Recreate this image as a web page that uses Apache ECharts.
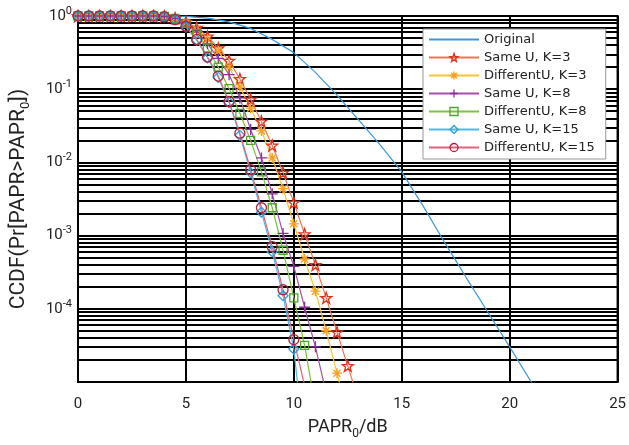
<!DOCTYPE html>
<html>
<head>
<meta charset="utf-8">
<script src="https://cdn.jsdelivr.net/npm/echarts@6/dist/echarts.min.js"></script>
<style>html,body{margin:0;padding:0;background:#fff;}#c{width:629px;height:445px;}</style>
</head>
<body>
<div id="c"></div>
<script>
// ---- data ----
const xGrid = [0,0.5,1,1.5,2,2.5,3,3.5,4,4.5,5,5.5,6,6.5,7,7.5,8,8.5,9,9.5,10,10.5,11,11.5,12,12.5,13];
const xOriginal = [0,1,2,3,4,5,6,7,8,9,10,11,12,13,14,15,16,17,18,19,20,21,22];
const original = [1,1,1,1,1,0.989,0.933,0.832,0.676,0.479,0.316,0.17,0.0832,0.038,0.0174,0.00741,0.00251,0.000794,0.000263,8.91e-5,3.02e-5,1e-5,3.16e-6];
const sameU_K3  = [1,1,1,1,1,1,1,1,0.99,0.933,0.832,0.692,0.525,0.363,0.245,0.138,0.0724,0.0363,0.017,0.00724,0.00282,0.00105,0.000398,0.000141,4.79e-5,1.66e-5,5.62e-6];
const diffU_K3  = [1,1,1,1,1,1,1,1,0.985,0.93,0.813,0.661,0.479,0.331,0.2,0.107,0.055,0.0269,0.0115,0.00437,0.00145,0.000479,0.000174,5.01e-5,1.32e-5,3.55e-6];
const sameU_K8  = [1,1,1,1,1,1,1,1,0.985,0.93,0.813,0.631,0.417,0.263,0.158,0.0759,0.0282,0.0115,0.00372,0.00107,0.00038,0.000105,3.02e-5,7.08e-6];
const diffU_K8  = [1,1,1,1,1,1,1,1,0.985,0.93,0.794,0.575,0.363,0.2,0.102,0.0468,0.02,0.00741,0.0024,0.000631,0.000141,3.16e-5,4.47e-6];
const sameU_K15 = [1,1,1,1,1,1,1,1,0.977,0.891,0.708,0.468,0.269,0.145,0.0661,0.0234,0.00724,0.00209,0.000603,0.000151,2.82e-5,1.26e-6];
const diffU_K15 = [1,1,1,1,1,1,1,1,0.977,0.891,0.724,0.479,0.275,0.151,0.0676,0.0251,0.00794,0.0024,0.000708,0.000182,3.8e-5,8.91e-6];
const seriesNames = ['Original','Same U, K=3','DifferentU, K=3','Same U, K=8','DifferentU, K=8','Same U, K=15','DifferentU, K=15'];
const xTicks = [0,5,10,15,20,25];
const yMin = 1e-5, yMax = 1;
// minor log grid positions (mantissas 2..9 in each decade)
const minorMantissas = [2,3,4,5,6,7,8,9];
const decades = [1e-5,1e-4,1e-3,1e-2,1e-1];

// ---- styles ----
const STAR = 'path://M0,-10L2.35,-3.24L9.51,-3.09L3.8,1.24L5.88,8.09L0,4L-5.88,8.09L-3.8,1.24L-9.51,-3.09L-2.35,-3.24Z';
const ASTER = 'path://M0,-10L0,10M-10,0L10,0M-7,-7L7,7M-7,7L7,-7';
const PLUS = 'path://M0,-10L0,10M-10,0L10,0';
const FONT = 'Roboto';
const LEGEND_FONT = 'DejaVu Sans';

const styles = {
  'Same U, K=3':      {line:'#f2744f', mark:'#e0301e', symbol:STAR, size:11},
  'DifferentU, K=3':  {line:'#f8c530', mark:'#f5a020', symbol:ASTER, size:10},
  'Same U, K=8':      {line:'#a550ab', mark:'#8a2f9a', symbol:PLUS, size:11},
  'DifferentU, K=8':  {line:'#7cc43a', mark:'#4ca52a', symbol:'rect', size:8},
  'Same U, K=15':     {line:'#4cb8ea', mark:'#2f9fd8', symbol:'diamond', size:10},
  'DifferentU, K=15': {line:'#e5607a', mark:'#b0203f', symbol:'circle', size:10}
};

function pairs(xs, ys){ return ys.map((v,i)=>[xs[i], v]); }

function mk(name, ys){
  const s = styles[name];
  return {
    name, type:'line', data: pairs(xGrid, ys), z: 3,
    symbol: s.symbol, symbolSize: s.size, showAllSymbol: true,
    lineStyle:{color: s.line, width: 1.2},
    itemStyle:{color:'rgba(255,255,255,0)', borderColor: s.mark, borderWidth: 1.3},
    emphasis:{disabled:true}, animation:false, clip:true
  };
}

const minorVals = [];
decades.forEach(d => minorMantissas.forEach(m => minorVals.push(+(m*d).toPrecision(3))));

const legendData = seriesNames.map(n => {
  if (n === 'Original') return {name:n, itemStyle:{color:'rgba(0,0,0,0)', borderWidth:0}};
  const s = styles[n];
  return {name:n, itemStyle:{color:'rgba(255,255,255,0)', borderColor:s.mark, borderWidth:1.3}};
});

const chart = echarts.init(document.getElementById('c'), null, {renderer:'canvas'});
chart.setOption({
  backgroundColor:'#fff',
  animation:false,
  textStyle:{fontFamily: FONT},
  grid:{left:77, right:10, top:16, bottom:52, show:true, borderColor:'#000', borderWidth:2, backgroundColor:'#fff'},
  legend:{
    orient:'vertical', left:423, top:29,
    data: legendData,
    backgroundColor:'#fff', borderColor:'#999', borderWidth:1,
    padding:[4,11,5,5], itemGap:5, itemWidth:50, itemHeight:10,
    textStyle:{fontSize:13, color:'#222', fontFamily: LEGEND_FONT},
    selectedMode:false
  },
  xAxis:{
    type:'value', min:0, max:25, interval:5,
    name:'PAPR{s|0}/dB', nameLocation:'middle', nameGap:33,
    nameTextStyle:{fontSize:18, color:'#222', fontFamily: FONT, rich:{s:{fontSize:12, padding:[13,0,0,0], color:'#222', fontFamily: FONT}}},
    axisLine:{show:true, lineStyle:{color:'#000', width:2}},
    axisTick:{show:false},
    axisLabel:{fontSize:15, color:'#222', margin:15, fontFamily: FONT, formatter: v => (xTicks.indexOf(v)>=0 ? String(v) : '')},
    splitLine:{show:true, lineStyle:{color:'#000', width:2}}
  },
  yAxis:{
    type:'log', logBase:10, min:yMin, max:yMax,
    name:'CCDF(Pr[PAPR>PAPR{s|0}])', nameLocation:'middle', nameGap:46,
    nameTextStyle:{fontSize:21, color:'#222', fontFamily: FONT, rich:{s:{fontSize:13, padding:[14,0,0,0], color:'#222', fontFamily: FONT}}},
    axisLine:{show:true, lineStyle:{color:'#000', width:2}},
    axisTick:{show:false},
    axisLabel:{
      margin:6, color:'#222',
      formatter: v => { const e = Math.round(Math.log10(v)); if (e <= -5) return ''; return '{b|10}{s|' + e + '}'; },
      rich:{ b:{fontSize:15, color:'#222', fontFamily: FONT}, s:{fontSize:11, color:'#222', fontFamily: FONT, padding:[0,0,10,0]} }
    },
    splitLine:{show:true, lineStyle:{color:'#000', width:2}}
  },
  series:[
    {
      name:'minor-grid', type:'lines', coordinateSystem:'cartesian2d', z:1, silent:true,
      animation:false, polyline:false,
      lineStyle:{color:'#000', width:2, opacity:1, curveness:0},
      data: minorVals.map(v => ({coords:[[0,v],[25,v]]}))
    },
    {
      name:'Original', type:'line', data: pairs(xOriginal, original), z:3,
      symbol:'none', lineStyle:{color:'#3b97dc', width:1.2}, itemStyle:{color:'rgba(0,0,0,0)'},
      emphasis:{disabled:true}, animation:false
    },
    mk('Same U, K=3', sameU_K3),
    mk('DifferentU, K=3', diffU_K3),
    mk('Same U, K=8', sameU_K8),
    mk('DifferentU, K=8', diffU_K8),
    mk('Same U, K=15', sameU_K15),
    mk('DifferentU, K=15', diffU_K15)
  ]
});
</script>
</body>
</html>
